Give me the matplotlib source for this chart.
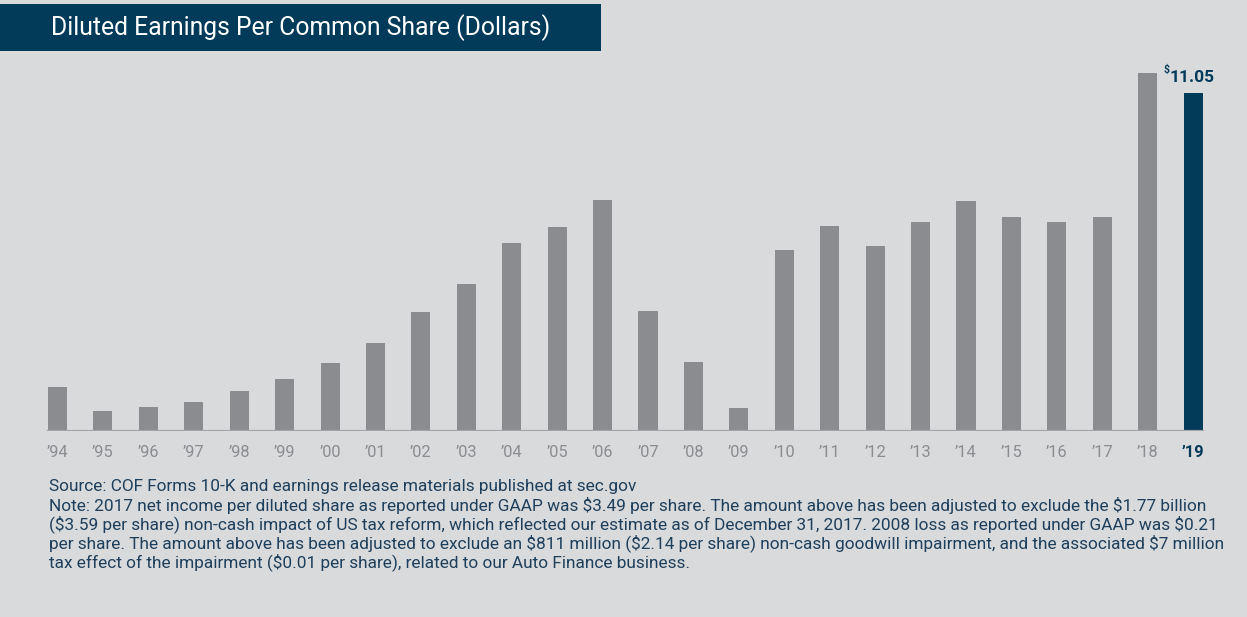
import matplotlib
matplotlib.use("Agg")
import matplotlib.pyplot as plt
from matplotlib.patches import Rectangle

years = ["’94", "’95", "’96", "’97", "’98", "’99", "’00", "’01", "’02", "’03", "’04", "’05", "’06",
         "’07", "’08", "’09", "’10", "’11", "’12", "’13", "’14", "’15", "’16", "’17", "’18", "’19"]
eps = [1.44, 0.65, 0.78, 0.95, 1.31, 1.70, 2.22, 2.88, 3.89, 4.81, 6.15, 6.67, 7.55,
       3.92, 2.26, 0.75, 5.92, 6.70, 6.05, 6.83, 7.52, 7.00, 6.83, 7.00, 11.70, 11.05]
title = "Diluted Earnings Per Common Share (Dollars)"
notes = [
    "Source: COF Forms 10-K and earnings release materials published at sec.gov",
    "Note: 2017 net income per diluted share as reported under GAAP was $3.49 per share. The amount above has been adjusted to exclude the $1.77 billion",
    "($3.59 per share) non-cash impact of US tax reform, which reflected our estimate as of December 31, 2017. 2008 loss as reported under GAAP was $0.21",
    "per share. The amount above has been adjusted to exclude an $811 million ($2.14 per share) non-cash goodwill impairment, and the associated $7 million",
    "tax effect of the impairment ($0.01 per share), related to our Auto Finance business.",
]

BG = "#d9dadc"
GRAY = "#8b8c90"
NAVY = "#023a5a"
TXT = "#1e3f5b"

plt.rcParams['font.family'] = ['Roboto', 'DejaVu Sans']

fig = plt.figure(figsize=(12.47, 6.17), dpi=100)
fig.patch.set_facecolor(BG)

# title box
fig.patches.append(Rectangle((0, 1 - 51/617), 601/1247, 47/617, transform=fig.transFigure,
                             facecolor=NAVY, edgecolor="none"))
fig.text(51/1247, 1 - 28/617, title, color="white", fontsize=17.8, va="center", ha="left")

ax = fig.add_axes([34.8/1247, 186/617, 1181/1247, 367/617])
ax.set_facecolor(BG)
x = list(range(len(years)))
colors = [GRAY] * (len(years) - 1) + [NAVY]
ax.bar(x, eps, width=0.42, color=colors, zorder=2)
ax.plot([-0.21, len(years) - 1 + 0.21], [0, 0], color="#a3a4a7", lw=1.6, zorder=3)
ax.set_xlim(-0.5, len(years) - 0.5)
ax.set_ylim(0, 12)
for s in ax.spines.values():
    s.set_visible(False)
ax.set_yticks([])
ax.set_xticks(x)
ax.set_xticklabels(years, fontsize=11.8, color=GRAY)
ax.tick_params(axis="x", length=0, pad=10)
last = ax.get_xticklabels()[-1]
last.set_color(NAVY)
last.set_fontweight("bold")

# value label
ax.annotate("11.05", xy=(x[-1], eps[-1]), xytext=(-1, 6), textcoords="offset points",
            ha="center", va="bottom", fontsize=12.5, fontweight="bold", color=NAVY)
ax.annotate(r"\$", xy=(x[-1], eps[-1]), xytext=(-17, 13), textcoords="offset points",
            ha="right", va="bottom", fontsize=7.5, fontweight="bold", color=NAVY)

for i, line in enumerate(notes):
    fig.text(49/1247, 1 - (486 + 19*i)/617, line.replace("$", r"\$"), fontsize=12.4,
             color=TXT, va="center", ha="left")

fig.savefig("out.png", dpi=100, facecolor=BG)
